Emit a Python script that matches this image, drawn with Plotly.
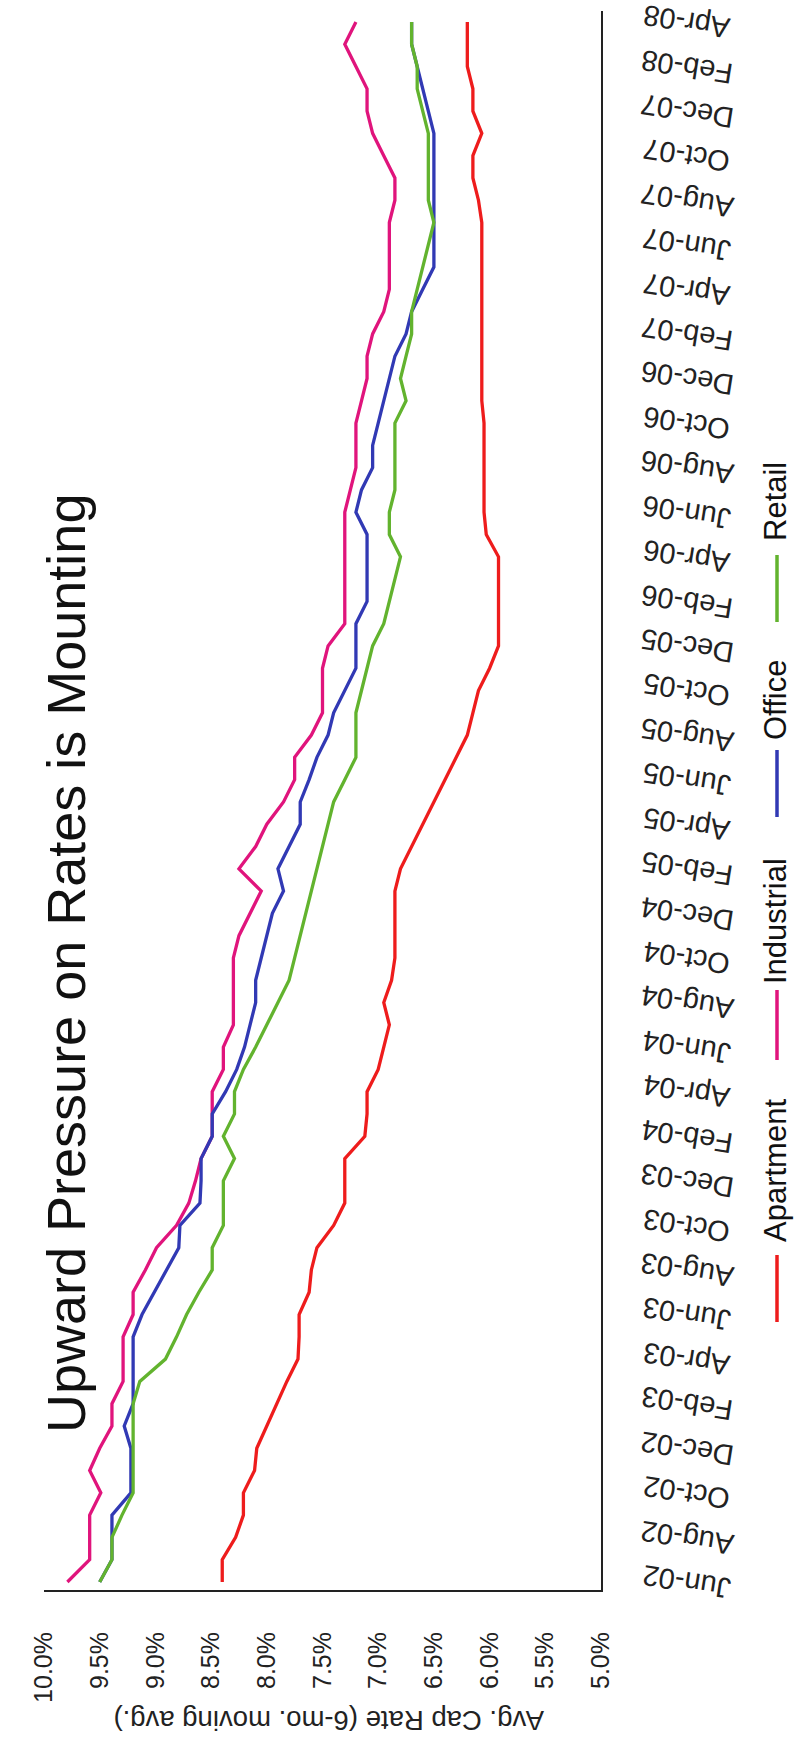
import plotly.graph_objects as go

months = ["Jun-02","Jul-02","Aug-02","Sep-02","Oct-02","Nov-02","Dec-02",
          "Jan-03","Feb-03","Mar-03","Apr-03","May-03","Jun-03","Jul-03","Aug-03","Sep-03","Oct-03","Nov-03","Dec-03",
          "Jan-04","Feb-04","Mar-04","Apr-04","May-04","Jun-04","Jul-04","Aug-04","Sep-04","Oct-04","Nov-04","Dec-04",
          "Jan-05","Feb-05","Mar-05","Apr-05","May-05","Jun-05","Jul-05","Aug-05","Sep-05","Oct-05","Nov-05","Dec-05",
          "Jan-06","Feb-06","Mar-06","Apr-06","May-06","Jun-06","Jul-06","Aug-06","Sep-06","Oct-06","Nov-06","Dec-06",
          "Jan-07","Feb-07","Mar-07","Apr-07","May-07","Jun-07","Jul-07","Aug-07","Sep-07","Oct-07","Nov-07","Dec-07",
          "Jan-08","Feb-08","Mar-08","Apr-08"]
tick_labels = months[::2]

apartment = [8.40,8.40,8.28,8.21,8.21,8.11,8.09,8.00,7.91,7.82,7.72,7.71,7.71,7.62,7.60,7.55,7.40,7.30,7.30,7.30,7.12,7.10,7.10,7.00,
             6.95,6.90,6.95,6.88,6.85,6.85,6.85,6.85,6.80,6.70,6.60,6.50,6.40,6.30,6.20,6.15,6.10,6.00,5.92,5.92,5.92,5.92,5.92,
             6.03,6.05,6.05,6.05,6.05,6.05,6.07,6.07,6.07,6.07,6.07,6.07,6.07,6.07,6.07,6.10,6.15,6.15,6.07,6.15,6.15,6.20,6.20,6.20]
industrial = [9.79,9.59,9.59,9.59,9.49,9.59,9.50,9.39,9.39,9.29,9.29,9.29,9.20,9.20,9.09,8.99,8.81,8.70,8.64,8.59,8.49,8.49,8.49,8.39,
              8.39,8.30,8.30,8.30,8.30,8.25,8.15,8.05,8.25,8.10,8.00,7.85,7.75,7.75,7.60,7.50,7.50,7.50,7.45,7.30,7.30,7.30,7.30,
              7.30,7.30,7.25,7.20,7.20,7.20,7.15,7.10,7.10,7.05,6.95,6.90,6.90,6.90,6.90,6.85,6.85,6.95,7.05,7.10,7.10,7.20,7.30,7.20]
office = [9.50,9.39,9.39,9.39,9.22,9.22,9.22,9.28,9.20,9.20,9.20,9.20,9.12,9.01,8.90,8.79,8.78,8.60,8.59,8.59,8.49,8.49,8.37,8.27,
          8.20,8.15,8.10,8.10,8.05,8.00,7.95,7.85,7.90,7.80,7.70,7.70,7.62,7.55,7.45,7.40,7.30,7.20,7.20,7.20,7.10,7.10,7.10,
          7.10,7.20,7.15,7.05,7.05,7.00,6.95,6.90,6.85,6.75,6.70,6.60,6.50,6.50,6.50,6.50,6.50,6.50,6.50,6.55,6.60,6.65,6.70,6.70]
retail = [9.50,9.39,9.39,9.30,9.20,9.20,9.20,9.20,9.20,9.14,8.91,8.81,8.72,8.61,8.49,8.49,8.39,8.39,8.39,8.29,8.39,8.29,8.29,8.21,
          8.10,8.00,7.90,7.80,7.75,7.70,7.65,7.60,7.55,7.50,7.45,7.40,7.30,7.20,7.20,7.20,7.15,7.10,7.05,6.95,6.90,6.85,6.80,
          6.90,6.90,6.85,6.85,6.85,6.85,6.75,6.80,6.75,6.70,6.70,6.65,6.60,6.55,6.50,6.55,6.55,6.55,6.55,6.60,6.65,6.65,6.70,6.70]

series_names = ["Apartment", "Industrial", "Office", "Retail"]
series_values = [apartment, industrial, office, retail]
colors = ["#ee1c1c", "#e0147c", "#3139b4", "#62b32e"]

value_ticks = [10.0, 9.5, 9.0, 8.5, 8.0, 7.5, 7.0, 6.5, 6.0, 5.5, 5.0]
value_tick_text = ["10.0%", "9.5%", "9.0%", "8.5%", "8.0%", "7.5%", "7.0%", "6.5%", "6.0%", "5.5%", "5.0%"]

FONT = "Liberation Sans, Arial, sans-serif"
W, H = 799, 1748
L, R, T, B = 44, 198, 11, 158
pw, ph = W - L - R, H - T - B

def px(x):
    return (x - L) / pw

def py(y):
    return (H - B - y) / ph

fig = go.Figure()
for name, vals, col in zip(series_names, series_values, colors):
    fig.add_trace(go.Scatter(x=vals, y=months, mode="lines", name=name,
                             line=dict(color=col, width=3.3), showlegend=False))

fig.update_layout(
    width=W, height=H,
    margin=dict(l=L, r=R, t=T, b=B, pad=0),
    paper_bgcolor="white", plot_bgcolor="white",
    font=dict(family=FONT, color="#222"),
    showlegend=False,
)
fig.update_xaxes(range=[10, 5], tickvals=value_ticks, ticktext=value_tick_text,
                 tickangle=-90, tickfont=dict(size=25, color="#222"),
                 showgrid=False, zeroline=False, showline=True, linecolor="#222", linewidth=2,
                 ticks="", ticklabelstandoff=30, automargin=False)
# date axis: line on the right; its labels are placed on the axis scale below
fig.update_yaxes(type="category", categoryorder="array", categoryarray=months,
                 range=[-0.36, 70.49], tickvals=tick_labels, showticklabels=False,
                 side="right", showgrid=False, zeroline=False, showline=True,
                 linecolor="#222", linewidth=2, ticks="", automargin=False)

ann = []
for lab in tick_labels:
    ann.append(dict(text=lab, x=px(687), xref="paper", y=lab, yref="y", textangle=-171,
                    showarrow=False, font=dict(size=29, color="#222", family=FONT),
                    xanchor="center", yanchor="middle"))

ann.append(dict(text="Upward Pressure on Rates is Mounting", x=px(66), y=py(964), xref="paper", yref="paper",
                textangle=-90, showarrow=False, font=dict(size=54, color="#111", family=FONT),
                xanchor="center", yanchor="middle"))
ann.append(dict(text="Avg. Cap Rate (6-mo. moving avg.)", x=px(329), y=py(1721), xref="paper", yref="paper",
                textangle=180, showarrow=False, font=dict(size=27.5, color="#222", family=FONT),
                xanchor="center", yanchor="middle"))

legend_text_y = [1171, 921, 700, 502]
legend_line_y = [(1255, 1322), (990, 1060), (750, 817), (555, 622)]
shapes = []
for name, col, ty, (y0, y1) in zip(series_names, colors, legend_text_y, legend_line_y):
    ann.append(dict(text=name, x=px(775), y=py(ty), xref="paper", yref="paper", textangle=-90,
                    showarrow=False, font=dict(size=31, color="#111", family=FONT),
                    xanchor="center", yanchor="middle"))
    shapes.append(dict(type="line", xref="paper", yref="paper", x0=px(777), x1=px(777),
                       y0=py(y0), y1=py(y1), line=dict(color=col, width=3.5)))

fig.update_layout(annotations=ann, shapes=shapes)
fig.write_html("out.html")
